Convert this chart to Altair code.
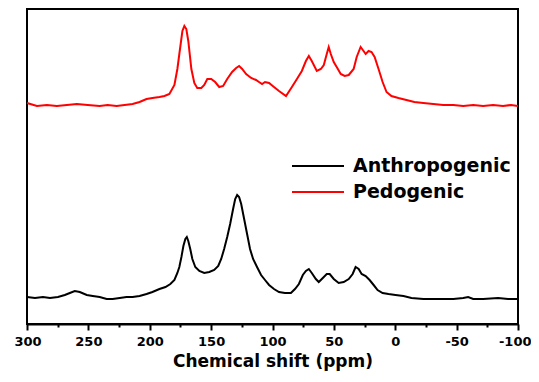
import altair as alt
import pandas as pd

# Pedogenic (red, upper trace)
ped_ppm = [300, 291.9, 283.8, 275.7, 267.5, 259.4, 250.5, 240.8, 234.3, 227, 220.5, 214, 208.3, 202.6,
           197.8, 192.1, 188, 184, 179.9, 177.5, 175.9, 173.4, 171.8, 170.2, 168.6, 166.1, 163.7, 161.3,
           158, 155.6, 153.1, 149.9, 146.7, 143.4, 140.2, 136.9, 132.9, 129.6, 127.2, 124.7, 121.5, 117.4,
           113.4, 111, 108.5, 106.1, 102.8, 98.8, 94.7, 89, 84.2, 80.1, 76.1, 72.8, 70.4, 68, 63.9, 60.6,
           58.2, 55.8, 54.2, 52.5, 50.1, 47.7, 44.4, 41.2, 37.9, 33.9, 31.4, 28.2, 25.8, 24.1, 21.7, 19.3,
           16.8, 13.6, 10.3, 7.1, 3.1, -2.6, -9.1, -15.6, -22.9, -31, -39.1, -47.3, -55.4, -63.5, -71.6,
           -79.7, -87.8, -94.3, -100]
ped_int = [221, 218, 219, 218, 219, 220, 219, 218, 219, 218, 219, 220, 222, 225,
           226, 227, 228, 230, 239, 255, 270, 293, 298, 295, 283, 255, 241, 236,
           236, 239, 245, 245, 242, 237, 238, 245, 252, 256, 258, 255, 250, 246,
           244, 242, 240, 242, 241, 237, 233, 228, 237, 245, 253, 263, 268, 263, 253, 255,
           259, 270, 277, 270, 262, 257, 250, 248, 249, 255, 267, 277, 273, 270, 273, 272,
           267, 255, 242, 232, 228, 226, 224, 222, 221, 220, 219, 219, 218, 219, 218,
           219, 218, 219, 218]

# Anthropogenic (black, lower trace)
ant_ppm = [300, 293.5, 287, 281.3, 274.8, 269.2, 265.1, 261.1, 257, 251.3, 246.4, 240.8, 235.1, 230.2,
           224.5, 218.9, 214, 208.3, 202.6, 197.8, 192.1, 187.2, 183.2, 179.9, 177.5, 175.9, 174.2,
           172.6, 171, 169.8, 168.6, 167, 165.3, 162.9, 159.6, 155.6, 151.5, 147.5, 144.2, 141.8,
           139.4, 136.9, 134.5, 132.1, 130.4, 128.8, 127.2, 125.5, 123.1, 120.7, 118.3, 115.8, 112.6,
           109.3, 106.1, 102.8, 98.8, 94.7, 89.9, 85, 81.7, 78.5, 75.3, 72.8, 70.4, 68, 64.7, 62.3,
           59, 55.8, 53.4, 50.1, 46.1, 42, 37.9, 34.7, 32.3, 29.8, 27.4, 24.1, 20.9, 17.6, 14.4,
           10.3, 5.5, -0.2, -6.7, -13.2, -22.9, -35.1, -47.3, -55.4, -59.4, -63.5, -71.6, -83.8,
           -91.9, -100]
ant_int = [27, 26, 27, 26, 27, 29, 31, 33, 32, 29, 28, 27, 25, 25,
           26, 27, 27, 28, 30, 32, 35, 37, 40, 44, 51, 57, 67,
           78, 85, 87, 83, 75, 65, 57, 53, 51, 52, 54, 58, 65,
           75, 87, 100, 115, 125, 129, 127, 120, 105, 90, 75, 65, 57,
           49, 44, 39, 35, 32, 31, 31, 35, 40, 49, 53, 55, 51, 45, 42,
           46, 50, 50, 45, 41, 42, 45, 50, 57, 55, 50, 48, 44, 39, 34,
           31, 30, 29, 28, 26, 25, 25, 25, 26, 27, 25, 25, 26,
           25, 25]

series_names = ["Anthropogenic", "Pedogenic"]
series_colors = ["#000000", "#FF0000"]
x_ticks = [300, 275, 250, 225, 200, 175, 150, 125, 100, 75, 50, 25, 0, -25, -50, -75, -100]

df = pd.concat([
    pd.DataFrame({"ppm": ant_ppm, "intensity": ant_int, "sample": series_names[0], "order": range(len(ant_ppm))}),
    pd.DataFrame({"ppm": ped_ppm, "intensity": ped_int, "sample": series_names[1], "order": range(len(ped_ppm))}),
])

FONT = "DejaVu Sans"

chart = alt.Chart(df).mark_line(strokeWidth=2).encode(
    x=alt.X("ppm:Q",
            scale=alt.Scale(domain=[300, -100], nice=False, zero=False),
            axis=alt.Axis(
                title="Chemical shift (ppm)",
                values=x_ticks,
                labelExpr="datum.value % 50 === 0 ? '' + datum.value : ''",
                tickSize={"condition": {"test": "datum.value % 50 === 0", "value": 6}, "value": 3},
                labelPadding=5,
                labelFlush=True,
                labelFlushOffset=13,
                grid=False,
            )),
    y=alt.Y("intensity:Q", scale=alt.Scale(domain=[0, 315], nice=False, zero=False), axis=None),
    color=alt.Color("sample:N",
                    scale=alt.Scale(domain=series_names, range=series_colors),
                    legend=alt.Legend(
                        title=None, orient="none", legendX=280, legendY=146,
                        symbolType="M-2.6,0H2.6", symbolSize=400, symbolStrokeWidth=2,
                        symbolFillColor="transparent",
                        labelFont=FONT, labelFontWeight="bold", labelFontSize=19,
                        labelColor="black", labelOffset=24, rowPadding=5,
                    )),
    order="order:Q",
).properties(
    width=491, height=315,
    autosize=alt.AutoSizeParams(type="none"),
    padding={"left": 19, "top": 1, "right": 13, "bottom": 50},
).configure_view(
    stroke="black", strokeWidth=2
).configure_axis(
    domainColor="black", domainWidth=2, tickColor="black", tickWidth=2,
    labelFont=FONT, labelFontWeight="bold", labelFontSize=13, labelColor="black",
    titleFont=FONT, titleFontWeight="bold", titleFontSize=17, titleColor="black", titlePadding=5,
)

chart.save("out.html", embed_options={"renderer": "svg", "actions": False})
